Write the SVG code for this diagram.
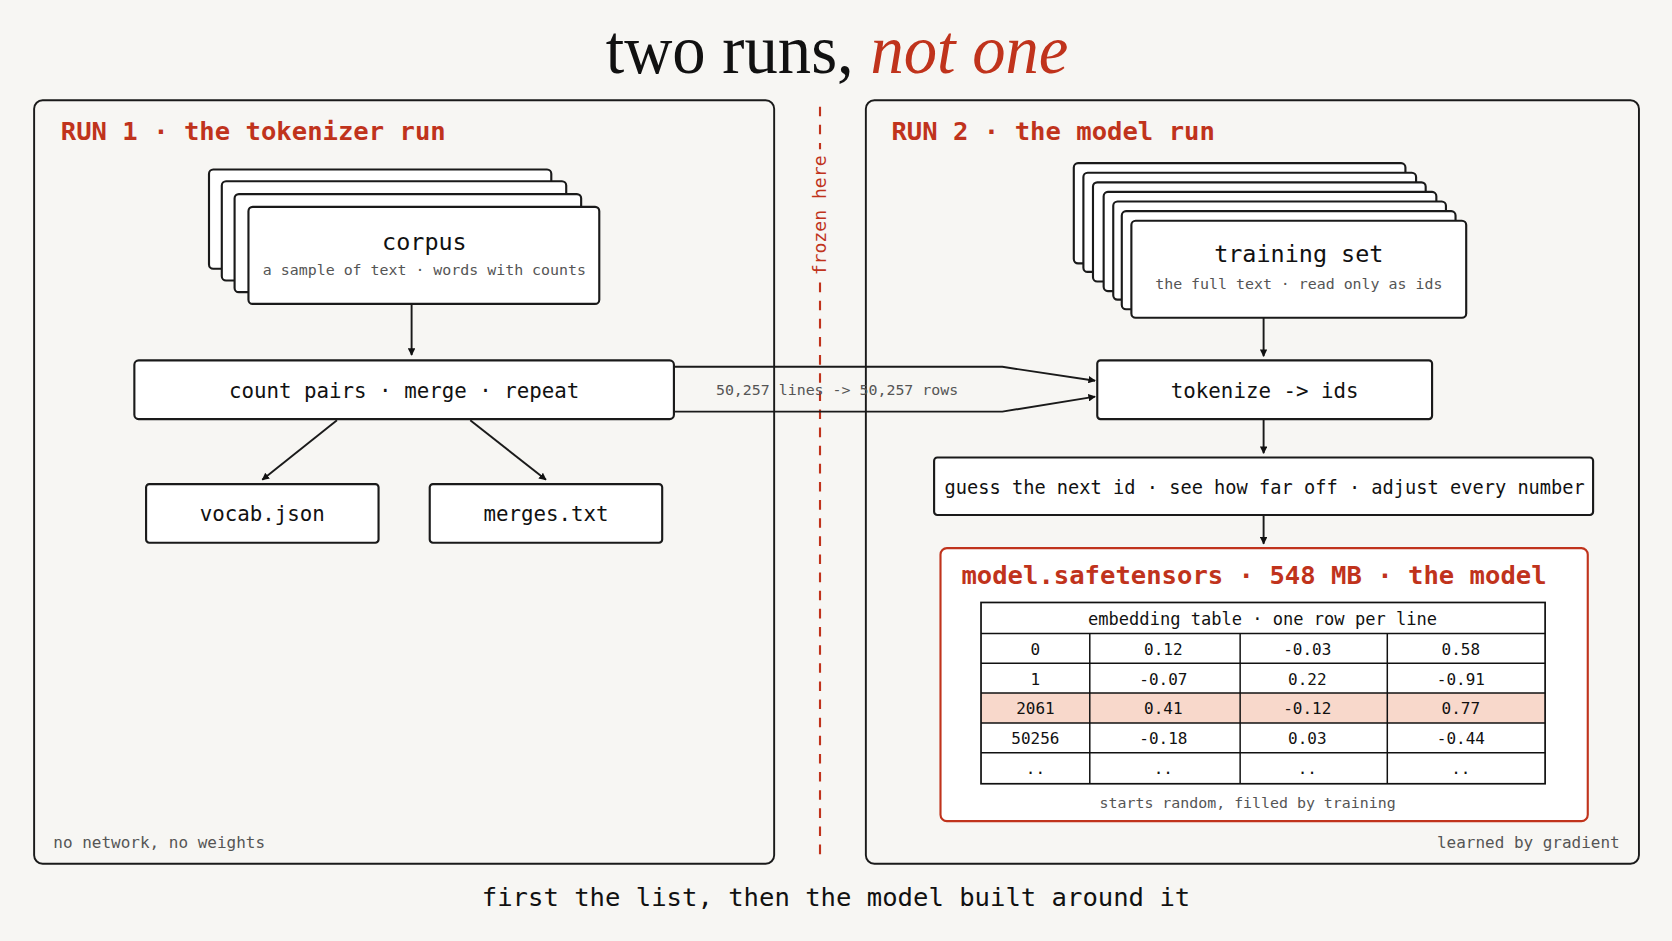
<svg xmlns="http://www.w3.org/2000/svg" width="1672" height="941" viewBox="0 0 1672 941">
<style>
.bg{fill:#f7f6f3}
.box{fill:#fff;stroke:#1a1a1a;stroke-width:2}
.panel{fill:none;stroke:#1a1a1a;stroke-width:1.8}
.m{font-family:"DejaVu Sans Mono","Liberation Mono",monospace;fill:#111}
.c{text-anchor:middle}
.sub{font-size:14px;fill:#555}
.red{fill:#c0331c;font-weight:bold;font-size:24px}
.ln{stroke:#1a1a1a;stroke-width:1.8;fill:none}
.gray{fill:#555;font-size:15px}
</style>
<defs>
<marker id="ah" viewBox="0 0 10 10" refX="9" refY="5" markerWidth="7" markerHeight="7" orient="auto" markerUnits="userSpaceOnUse"><path d="M0,0L10,5L0,10z" fill="#111"/></marker>
<marker id="ah2" viewBox="0 0 10 10" refX="9" refY="5" markerWidth="11" markerHeight="11" orient="auto" markerUnits="userSpaceOnUse"><path d="M0,0L10,5L0,10z" fill="#111"/></marker>
</defs>
<rect class="bg" width="1672" height="941"/>
<g transform="scale(1.06633)">
<g id="title">
<text x="785" y="68" text-anchor="middle" font-family="Liberation Serif,serif" font-size="66" textLength="434" lengthAdjust="spacingAndGlyphs" fill="#111">two runs, <tspan fill="#c0331c" font-style="italic">not one</tspan></text>
</g>
<g id="panel1">
<rect class="panel" x="32" y="94" width="694" height="716" rx="8"/>
<text class="m red" x="57" y="131">RUN 1 · the tokenizer run</text>
<text class="m gray" x="50" y="795">no network, no weights</text>
</g>
<g id="panel2">
<rect class="panel" x="812" y="94" width="725" height="716" rx="8"/>
<text class="m red" x="836" y="131">RUN 2 · the model run</text>
<text class="m gray" x="1519" y="795" text-anchor="end">learned by gradient</text>
</g>
<g id="frozen">
<line x1="769" y1="100" x2="769" y2="140" stroke="#c0331c" stroke-width="2" stroke-dasharray="9,8"/>
<line x1="769" y1="265" x2="769" y2="808" stroke="#c0331c" stroke-width="2" stroke-dasharray="9,8"/>
<text class="m" x="0" y="0" transform="translate(775,202) rotate(-90)" text-anchor="middle" font-size="17" fill="#c0331c" style="fill:#c0331c">frozen here</text>
</g>
<g id="connectors">
<line class="ln" x1="386" y1="286" x2="386" y2="333" marker-end="url(#ah)"/>
<line class="ln" x1="316" y1="394" x2="246" y2="450" marker-end="url(#ah)"/>
<line class="ln" x1="441" y1="394" x2="512" y2="450" marker-end="url(#ah)"/>
<path class="ln" d="M632,344 L940,344 L1027,357" marker-end="url(#ah)"/>
<path class="ln" d="M632,386 L940,386 L1027,372" marker-end="url(#ah)"/>
<text class="m sub c" x="785" y="370">50,257 lines -&gt; 50,257 rows</text>
<line class="ln" x1="1185" y1="298" x2="1185" y2="334" marker-end="url(#ah)"/>
<line class="ln" x1="1185" y1="393" x2="1185" y2="425" marker-end="url(#ah)"/>
<line class="ln" x1="1185" y1="483" x2="1185" y2="510" marker-end="url(#ah)"/>
</g>
<g id="corpus">
<rect class="box" x="196" y="159" width="321" height="93" rx="4"/>
<rect class="box" x="208" y="170" width="323" height="93" rx="4"/>
<rect class="box" x="220" y="182" width="325" height="92" rx="4"/>
<rect class="box" x="233" y="194" width="329" height="91" rx="4"/>
<text class="m c" x="398" y="234" font-size="22">corpus</text>
<text class="m c sub" x="398" y="258">a sample of text · words with counts</text>
</g>
<g id="countpairs">
<rect class="box" x="126" y="338" width="506" height="55" rx="4"/>
<text class="m c" x="379" y="373" font-size="19.5">count pairs · merge · repeat</text>
</g>
<g id="vocab">
<rect class="box" x="137" y="454" width="218" height="55" rx="3"/>
<text class="m c" x="246" y="489" font-size="19.5">vocab.json</text>
</g>
<g id="merges">
<rect class="box" x="403" y="454" width="218" height="55" rx="3"/>
<text class="m c" x="512" y="489" font-size="19.5">merges.txt</text>
</g>
<g id="trainingset">
<rect class="box" x="1007" y="153" width="311" height="94" rx="4"/>
<rect class="box" x="1016" y="162" width="312" height="93" rx="4"/>
<rect class="box" x="1025" y="171" width="312" height="93" rx="4"/>
<rect class="box" x="1035" y="180" width="312" height="93" rx="4"/>
<rect class="box" x="1044" y="189" width="312" height="92" rx="4"/>
<rect class="box" x="1052" y="198" width="313" height="92" rx="4"/>
<rect class="box" x="1061" y="207" width="314" height="91" rx="4"/>
<text class="m c" x="1218" y="246" font-size="22">training set</text>
<text class="m c sub" x="1218" y="271">the full text · read only as ids</text>
</g>
<g id="tokenize">
<rect class="box" x="1029" y="338" width="314" height="55" rx="3"/>
<text class="m c" x="1186" y="373" font-size="19.5">tokenize -&gt; ids</text>
</g>
<g id="guess">
<rect class="box" x="876" y="429" width="618" height="54" rx="3"/>
<text class="m c" x="1186" y="463" font-size="17.5">guess the next id · see how far off · adjust every number</text>
</g>
<g id="model">
<rect x="882" y="514" width="607" height="256" rx="6" fill="#fff" stroke="#c0331c" stroke-width="2"/>
<text class="m red c" x="1176" y="548">model.safetensors · 548 MB · the model</text>
<rect x="920" y="650" width="529" height="28" fill="#f8d8cb"/>
<rect x="920" y="565" width="529" height="170" fill="none" stroke="#111" stroke-width="1.6"/>
<g stroke="#111" stroke-width="1.4">
<line x1="920" y1="594" x2="1449" y2="594"/>
<line x1="920" y1="622" x2="1449" y2="622"/>
<line x1="920" y1="650" x2="1449" y2="650"/>
<line x1="920" y1="678" x2="1449" y2="678"/>
<line x1="920" y1="706" x2="1449" y2="706"/>
<line x1="1022" y1="594" x2="1022" y2="735"/>
<line x1="1163" y1="594" x2="1163" y2="735"/>
<line x1="1301" y1="594" x2="1301" y2="735"/>
</g>
<text class="m c" x="1184" y="586" font-size="16">embedding table · one row per line</text>
<g class="m c" font-size="15" text-anchor="middle">
<text x="971" y="614">0</text><text x="1091" y="614">0.12</text><text x="1226" y="614">-0.03</text><text x="1370" y="614">0.58</text>
<text x="971" y="642">1</text><text x="1091" y="642">-0.07</text><text x="1226" y="642">0.22</text><text x="1370" y="642">-0.91</text>
<text x="971" y="670">2061</text><text x="1091" y="670">0.41</text><text x="1226" y="670">-0.12</text><text x="1370" y="670">0.77</text>
<text x="971" y="698">50256</text><text x="1091" y="698">-0.18</text><text x="1226" y="698">0.03</text><text x="1370" y="698">-0.44</text>
<text x="971" y="726">..</text><text x="1091" y="726">..</text><text x="1226" y="726">..</text><text x="1370" y="726">..</text>
</g>
<text class="m c sub" x="1170" y="758">starts random, filled by training</text>
</g>
<g id="caption">
<text class="m c" x="784" y="850" font-size="24">first the list, then the model built around it</text>
</g>
</g>
</svg>
